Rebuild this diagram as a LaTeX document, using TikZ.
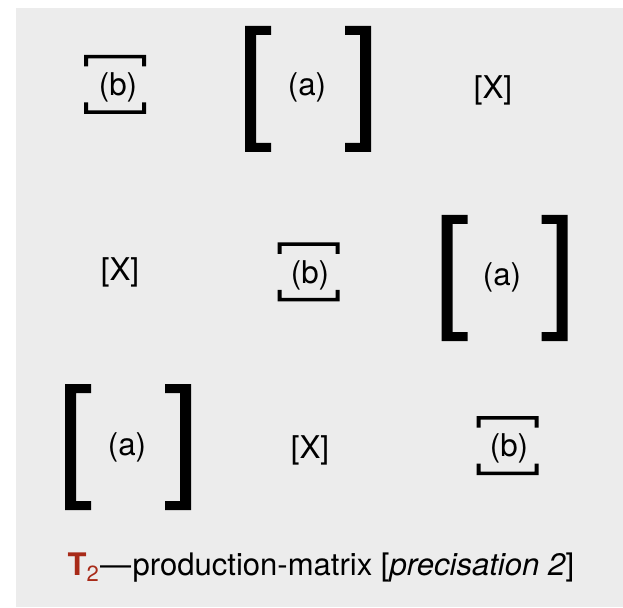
\documentclass[tikz,border=0pt]{standalone}
\usepackage{fontspec}
\setmainfont{TeX Gyre Heros}
\usepackage{tikz}
\definecolor{PMBack}{RGB}{236,236,236}
\definecolor{PMInk}{RGB}{0,0,0}
\definecolor{PMRed}{RGB}{168,42,24}

\begin{document}
\begin{tikzpicture}[
x=0.75pt,
y=0.75pt,
every node/.style={font=\fontsize{23.5}{27}\selectfont,text=PMInk,outer sep=0pt,inner sep=0pt},
cell/.style={anchor=center},
caption/.style={anchor=base,font=\fontsize{23.3}{27}\selectfont},
brkfill/.style={fill=PMInk,draw=none},
pics/bigbrk/.style={code={
  \fill[brkfill] (-63,63) -- (-37,63) -- (-37,54) -- (-52,54) -- (-52,-54) -- (-37,-54) -- (-37,-63) -- (-63,-63) -- cycle;
  \fill[brkfill] (63,63) -- (37,63) -- (37,54) -- (52,54) -- (52,-54) -- (37,-54) -- (37,-63) -- (63,-63) -- cycle;
}},
pics/smallbrk/.style={code={
  \fill[brkfill] (-31,29.5) -- (31,29.5) -- (31,18) -- (27,18) -- (27,26) -- (-27,26) -- (-27,18) -- (-31,18) -- cycle;
  \fill[brkfill] (-31,-29.5) -- (31,-29.5) -- (31,-18) -- (27,-18) -- (27,-26) -- (-27,-26) -- (-27,-18) -- (-31,-18) -- cycle;
}}
]

\path[use as bounding box] (0,0) rectangle (623,607);
\fill[PMBack] (16,0) rectangle (623,599);

% row 1
\pic at (115,522.5) {smallbrk};
\node[cell] (b1) at (118,520) {(b)};
\pic at (308,518) {bigbrk};
\node[cell] (a1) at (307,520) {(a)};
\node[cell] (x1) at (493,517) {[X]};

% row 2
\node[cell] (x2) at (120,335) {[X]};
\pic at (308.5,335) {smallbrk};
\node[cell] (b2) at (310,332) {(b)};
\pic at (504.5,329) {bigbrk};
\node[cell] (a2) at (502,330) {(a)};

% row 3
\pic at (128,160) {bigbrk};
\node[cell] (a3) at (127,160) {(a)};
\node[cell] (x3) at (310,157) {[X]};
\pic at (507.5,161.5) {smallbrk};
\node[cell] (b3) at (509,159) {(b)};

% caption
\node[caption] (cap) at (321,32) {{\color{PMRed}\textbf{T}\raisebox{-0.2em}{\fontsize{16.5}{18}\selectfont 2}}\kern1pt---\kern1pt production-matrix [\textit{precisation 2}]};

\end{tikzpicture}
\end{document}
